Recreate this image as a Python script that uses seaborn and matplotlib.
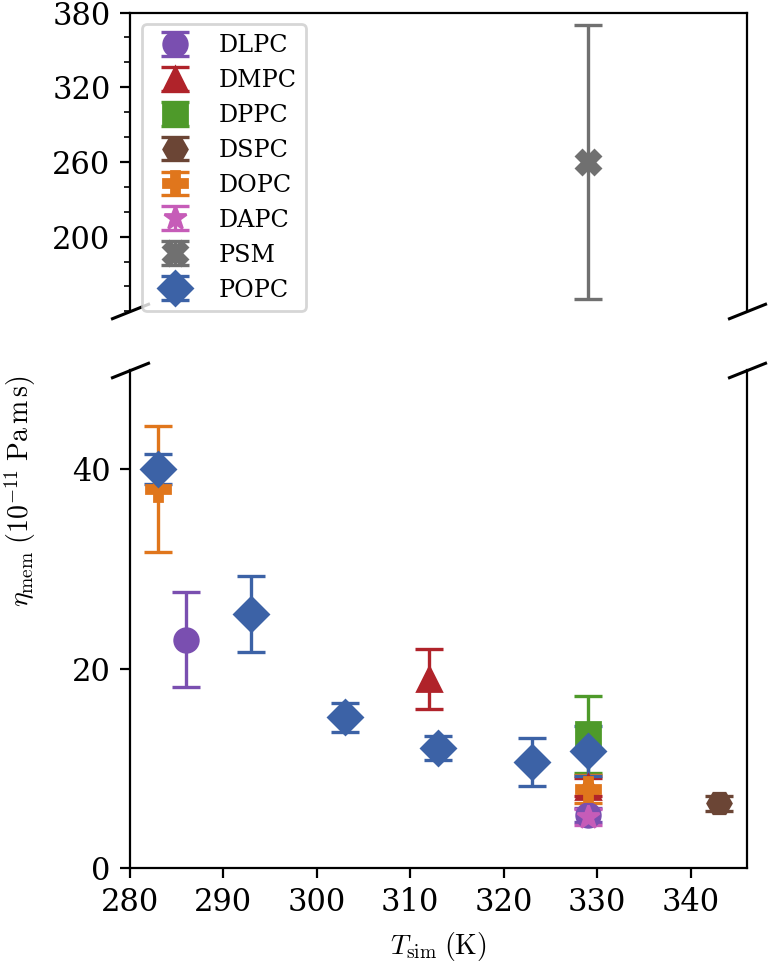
import pandas as pd
import matplotlib
matplotlib.use("Agg")
import matplotlib.pyplot as plt
from matplotlib.ticker import MultipleLocator
import seaborn as sns

sns.set_style("ticks", {"axes.edgecolor": "black", "xtick.color": "black",
                        "ytick.color": "black", "text.color": "black",
                        "axes.labelcolor": "black"})
plt.rcParams["font.family"] = ["DejaVu Serif"]
plt.rcParams["mathtext.fontset"] = "cm"
plt.rcParams["font.size"] = 10
plt.rcParams["xtick.labelsize"] = 11
plt.rcParams["ytick.labelsize"] = 11

# membrane viscosity values
lipids = ["DLPC", "DLPC", "DMPC", "DMPC", "DPPC", "DSPC", "DOPC", "DOPC",
          "DAPC", "PSM", "POPC", "POPC", "POPC", "POPC", "POPC", "POPC"]
temps = [286, 329, 312, 329, 329, 343, 283, 329,
         329, 329, 283, 293, 303, 313, 323, 329]
eta = [22.9, 5.3, 19.0, 8.1, 13.4, 6.5, 38.0, 7.9,
       5.1, 260.0, 40.0, 25.5, 15.1, 12.0, 10.6, 11.7]
eta_err = [4.75, 0.7, 3.0, 0.9, 3.9, 0.75, 6.3, 1.4,
           0.8, 110.0, 1.5, 3.8, 1.5, 1.2, 2.4, 2.5]

lipid_order = ["DLPC", "DMPC", "DPPC", "DSPC", "DOPC", "DAPC", "PSM", "POPC"]
lipid_colors = ["#7a4fb0", "#b0232a", "#4e9a2a", "#6b4535",
                "#e0761c", "#c65cb8", "#707070", "#3c62a6"]
lipid_markers = ["o", "^", "s", "H", "P", "*", "X", "D"]

low_yticks = [0, 20, 40]
high_yticks = [200, 260, 320, 380]
x_ticks = [280, 290, 300, 310, 320, 330, 340]

df = pd.DataFrame({"lipid": lipids, "T": temps, "eta": eta, "err": eta_err})
palette = dict(zip(lipid_order, lipid_colors))

fig = plt.figure(figsize=(769 / 200, 964 / 200), dpi=200)
ax_top = fig.add_axes([0.169, 0.677, 0.802, 0.310])
ax_bot = fig.add_axes([0.169, 0.0996, 0.802, 0.517], sharex=ax_top)

for lipid, marker in zip(lipid_order, lipid_markers):
    sub = df[df["lipid"] == lipid]
    for ax in (ax_top, ax_bot):
        ax.errorbar(sub["T"], sub["eta"], yerr=sub["err"], fmt=marker,
                    color=palette[lipid], ms=8.5, capsize=5,
                    elinewidth=1.2, capthick=1.2, label=lipid)

ax_top.set_ylim(140, 380)
ax_bot.set_ylim(0, 50)
ax_top.set_yticks(high_yticks)
ax_top.yaxis.set_minor_locator(MultipleLocator(20))
ax_bot.set_yticks(low_yticks)
ax_bot.set_xticks(x_ticks)

ax_top.spines["bottom"].set_visible(False)
ax_top.tick_params(axis="x", bottom=False, labelbottom=False)
ax_bot.spines["top"].set_visible(False)

# diagonal marks for the broken axis
kw = dict(marker=[(-1, -0.4), (1, 0.4)], markersize=14, linestyle="none",
          color="k", mec="k", mew=1.1, clip_on=False)
ax_top.plot([0, 1], [0, 0], transform=ax_top.transAxes, **kw)
ax_bot.plot([0, 1], [1, 1], transform=ax_bot.transAxes, **kw)

ax_top.legend(loc="upper left", fontsize=8.6, labelspacing=0.5)

ax_bot.set_xlabel(r"$T_\mathrm{sim}\;(\mathrm{K})$")
fig.text(0.026, 0.49, r"$\eta_\mathrm{mem}\;(10^{-11}\;\mathrm{Pa\,m\,s})$",
         rotation=90, ha="center", va="center")

fig.savefig("out.png", dpi=200)
